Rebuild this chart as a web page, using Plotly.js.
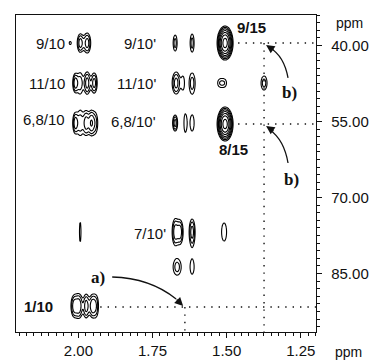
<!DOCTYPE html>
<html>
<head>
<meta charset="utf-8">
<script src="https://cdn.plot.ly/plotly-3.0.1.min.js"></script>
<style>html,body{margin:0;padding:0;background:#fff;}</style>
</head>
<body>
<div id="chart" style="width:371px;height:361px;"></div>
<script>
// Cross peaks: 1H shift (ppm), 13C shift (ppm), outer-contour half width / half height (ppm), number of contour rings
const peakX = [2.0276, 1.9940, 1.9704, 1.6739, 1.6166, 1.5054,
               2.0108, 1.9940, 1.9704, 1.9468, 1.6705, 1.6469, 1.6166, 1.5240, 1.5070, 1.3740,
               2.0108, 1.9940, 1.9737, 1.9569, 1.9434, 1.6739, 1.6402, 1.6166, 1.5054,
               1.9940, 1.6739, 1.6570, 1.6166, 1.5088, 1.6671, 1.6166,
               2.0142, 1.9973, 1.9737, 1.9535, 1.9401];
const peakY = [39.51, 39.51, 39.51, 39.51, 39.51, 39.51,
               47.40, 47.40, 47.40, 47.40, 47.40, 47.40, 47.40, 47.40, 47.40, 47.40,
               55.30, 55.30, 55.30, 55.30, 55.30, 55.30, 55.30, 55.30, 55.49,
               76.81, 76.80, 76.80, 76.80, 76.81, 83.71, 83.71,
               91.41, 91.41, 91.41, 91.41, 91.41];
const peakHalfW = [0.0034, 0.0101, 0.0118, 0.0067, 0.0067, 0.0270,
                   0.0084, 0.0084, 0.0101, 0.0101, 0.0135, 0.0034, 0.0101, 0.0055, 0.0055, 0.0101,
                   0.0084, 0.0084, 0.0101, 0.0084, 0.0084, 0.0084, 0.0034, 0.0067, 0.0270,
                   0.0027, 0.0101, 0.0101, 0.0101, 0.0084, 0.0135, 0.0067,
                   0.0110, 0.0110, 0.0095, 0.0095, 0.0075];
const peakHalfH = [0.30, 1.78, 1.97, 1.58, 1.78, 3.36,
                   1.78, 1.97, 2.17, 1.97, 2.17, 0.99, 1.97, 0.55, 0.55, 1.38,
                   1.97, 2.37, 2.37, 2.17, 1.97, 1.58, 1.38, 1.58, 3.36,
                   1.97, 2.55, 2.30, 2.55, 1.78, 1.60, 1.40,
                   2.10, 2.30, 2.30, 2.10, 1.90];
const peakRings = [1, 3, 3, 2, 2, 7,
                   3, 2, 3, 3, 3, 1, 2, 1, 1, 2,
                   3, 2, 3, 3, 2, 3, 1, 1, 7,
                   1, 3, 3, 3, 1, 2, 1,
                   3, 3, 3, 3, 2];

// Text labels
const labelText = ['9/10', '11/10', '6,8/10', "9/10'", "11/10'", "6,8/10'", "7/10'"];
const labelX = [2.0378, 2.0378, 2.0378, 1.7312, 1.7312, 1.7312, 1.6975];
const labelY = [39.51, 47.40, 54.70, 39.51, 47.40, 54.90, 77.01];
const boldText = ['1/10', '9/15', '8/15'];
const boldX = [2.0782, 1.4178, 1.4785];
const boldY = [91.41, 36.35, 60.62];
const boldAnchor = ['right', 'center', 'center'];
const noteText = ['a)', 'b)', 'b)'];
const noteX = [1.9333, 1.2898, 1.2831];
const noteY = [85.69, 49.18, 66.54];

// Reference cross-hairs (ppm)
const hLineY = [39.51, 55.49, 91.61];
const hLineX0 = [1.4616, 1.4616, 1.9266];
const vLineX = [1.3740, 1.6410];
const vLineY0 = [39.51, 91.61];

// Curved arrows: start, control, end, tip (ppm)
const arrowStart = [[1.8861, 85.69], [1.2931, 46.41], [1.2931, 63.19]];
const arrowCtrl  = [[1.7581, 85.89], [1.3066, 42.07], [1.3066, 58.65]];
const arrowEnd   = [[1.6705, 90.03], [1.3538, 40.49], [1.3538, 56.68]];
const arrowTip   = [[1.6469, 91.41], [1.3673, 39.90], [1.3673, 55.89]];
const arrowOff   = [[-8, -8], [9, 6], [9, 6]];

const xRange = [2.2106, 1.1988];
const yRange = [96.54, 33.98];

// build the grid for the contour trace
const step = 0.35;
const xs = [], ys = [];
for (let x = 1.19; x <= 2.215; x += 0.0022) xs.push(+x.toFixed(4));
for (let y = 33.5; y <= 97; y += 0.11) ys.push(+y.toFixed(3));
const S = ys.map(() => new Float64Array(xs.length));
for (let k = 0; k < peakX.length; k++) {
  const lnA = step * (peakRings[k] - 1) + 0.17;
  const A = Math.exp(lnA);
  const f = Math.sqrt(2 * lnA);
  const sx = peakHalfW[k] / f, sy = peakHalfH[k] / f;
  for (let j = 0; j < ys.length; j++) {
    const dy = (ys[j] - peakY[k]) / sy;
    if (Math.abs(dy) > 5) continue;
    for (let i = 0; i < xs.length; i++) {
      const dx = (xs[i] - peakX[k]) / sx;
      if (Math.abs(dx) > 5) continue;
      S[j][i] += A * Math.exp(-0.5 * (dx * dx + dy * dy));
    }
  }
}
const Z = S.map(r => Array.from(r, v => Math.max(-3, Math.log(v + 1e-9))));

const trace = {
  type: 'contour', x: xs, y: ys, z: Z,
  contours: {coloring: 'lines', start: 0, end: 3.2, size: step, showlabels: false},
  line: {width: 1.1, smoothing: 1},
  colorscale: [[0, '#000'], [1, '#000']],
  showscale: false, hoverinfo: 'skip'
};

const font = 'Liberation Sans, Arial, Helvetica, sans-serif';
const annotations = [];
labelText.forEach((t, i) => annotations.push({x: labelX[i], y: labelY[i], xref: 'x', yref: 'y', text: t,
  showarrow: false, xanchor: 'right', yanchor: 'middle', font: {family: font, size: 15, color: '#111'}}));
boldText.forEach((t, i) => annotations.push({x: boldX[i], y: boldY[i], xref: 'x', yref: 'y', text: '<b>' + t + '</b>',
  showarrow: false, xanchor: boldAnchor[i], yanchor: 'middle', font: {family: font, size: 15, color: '#111'}}));
noteText.forEach((t, i) => annotations.push({x: noteX[i], y: noteY[i], xref: 'x', yref: 'y', text: '<b>' + t + '</b>',
  showarrow: false, xanchor: 'center', yanchor: 'middle', font: {family: 'Liberation Serif, Times New Roman, serif', size: 17, color: '#111'}}));
arrowTip.forEach((p, i) => annotations.push({x: p[0], y: p[1], xref: 'x', yref: 'y', text: '', showarrow: true,
  ax: arrowOff[i][0], ay: arrowOff[i][1], arrowhead: 2, arrowsize: 1.3, arrowwidth: 1.3, arrowcolor: '#111'}));
annotations.push({x: 1, y: 1, xref: 'paper', yref: 'paper', xanchor: 'left', yanchor: 'middle', xshift: 18, yshift: -8,
  text: 'ppm', showarrow: false, font: {family: font, size: 14, color: '#111'}});
annotations.push({x: 1, y: 0, xref: 'paper', yref: 'paper', xanchor: 'left', yanchor: 'middle', xshift: 17, yshift: -20,
  text: 'ppm', showarrow: false, font: {family: font, size: 14, color: '#111'}});

const dot = {color: '#111', width: 1.4, dash: '1.4px,6px'};
const shapes = [];
hLineY.forEach((y, i) => shapes.push({type: 'line', xref: 'x', yref: 'y', x0: hLineX0[i], x1: xRange[1], y0: y, y1: y, line: dot}));
vLineX.forEach((x, i) => shapes.push({type: 'line', xref: 'x', yref: 'y', x0: x, x1: x, y0: vLineY0[i], y1: yRange[0], line: dot}));
arrowStart.forEach((s, i) => shapes.push({type: 'path', xref: 'x', yref: 'y',
  path: 'M' + s[0] + ',' + s[1] + ' Q' + arrowCtrl[i][0] + ',' + arrowCtrl[i][1] + ' ' + arrowEnd[i][0] + ',' + arrowEnd[i][1],
  line: {color: '#111', width: 1.3}}));

const axisCommon = {
  ticks: 'outside', ticklen: 5, tickwidth: 1, tickcolor: '#111',
  showline: true, linecolor: '#111', linewidth: 1.2, mirror: true,
  showgrid: false, zeroline: false, tickformat: '.2f',
  tickfont: {family: font, size: 15, color: '#111'}
};
const layout = {
  width: 371, height: 361,
  margin: {l: 16, r: 55, t: 15, b: 29, pad: 0},
  paper_bgcolor: '#fff', plot_bgcolor: '#fff', showlegend: false,
  xaxis: Object.assign({}, axisCommon, {range: xRange, tickmode: 'linear', tick0: 1.25, dtick: 0.25,
    ticklabelstandoff: 0,
    minor: {dtick: 0.025, tick0: 0, ticks: 'outside', ticklen: 3, tickcolor: '#111', showgrid: false}}),
  yaxis: Object.assign({}, axisCommon, {range: yRange, side: 'right', tickmode: 'linear', tick0: 40, dtick: 15,
    ticklabelstandoff: 6,
    minor: {dtick: 1.5, tick0: 40, ticks: 'outside', ticklen: 3, tickcolor: '#111', showgrid: false}}),
  annotations: annotations, shapes: shapes
};
Plotly.newPlot('chart', [trace], layout, {staticPlot: true, displayModeBar: false});
</script>
</body>
</html>
